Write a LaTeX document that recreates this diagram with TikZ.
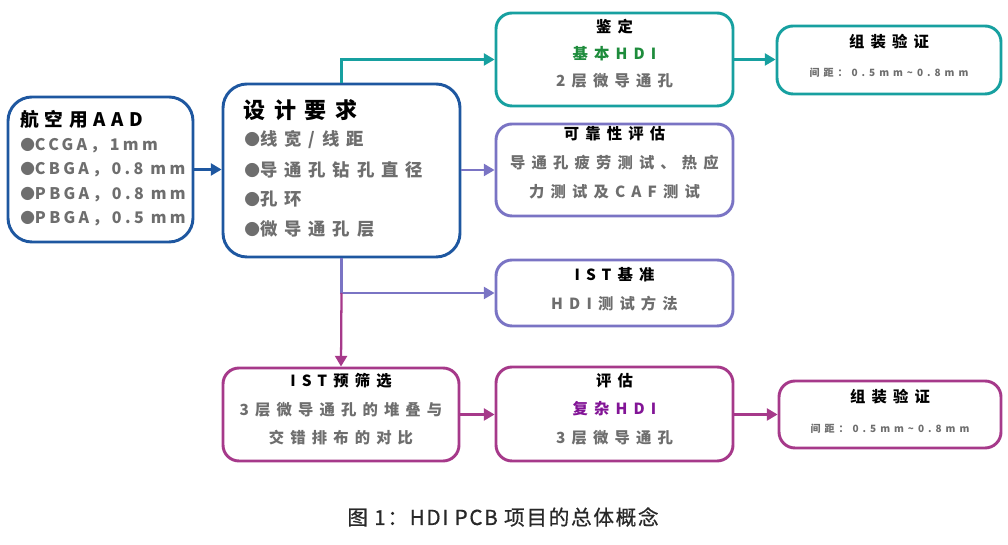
\documentclass[tikz,border=0pt]{standalone}
\usepackage{fontspec}
\setmainfont{Noto Sans CJK SC}
\newfontfamily\lsfont[LetterSpace=40]{Noto Sans CJK SC}
\newfontfamily\lsAfont[LetterSpace=21]{Noto Sans CJK SC}
\newfontfamily\lsTfont[LetterSpace=31]{Noto Sans CJK SC}
\newfontfamily\capfont[LetterSpace=8,FakeBold=0.6]{Noto Sans CJK SC}
\newcommand{\bltA}{{\normalfont\bfseries\fontsize{11}{11}\selectfont●}}
\newcommand{\bltB}{{\normalfont\bfseries\fontsize{11.8}{11.8}\selectfont●}}
\usetikzlibrary{arrows.meta,fit}
\definecolor{cblue}{RGB}{30,87,160}
\definecolor{cteal}{RGB}{23,160,160}
\definecolor{cpurple}{RGB}{122,116,196}
\definecolor{cmag}{RGB}{166,57,138}
\definecolor{cgray}{RGB}{110,110,110}
\definecolor{cgreen}{RGB}{30,140,60}
\definecolor{cviolet}{RGB}{130,20,150}
\definecolor{ccap}{RGB}{40,40,40}
\begin{document}
\begin{tikzpicture}[x=0.75pt,y=-0.75pt,
  box/.style={draw, line width=2.2pt, rounded corners=12pt, fill=white, inner sep=0pt},
  bigbox/.style={box, rounded corners=18pt},
  arr/.style={line width=1.7pt, -{Triangle[length=8pt,width=9pt]}},
  ttlA/.style={font=\lsTfont\bfseries\fontsize{14}{16}\selectfont, text=black, anchor=west, inner sep=0pt},
  bodyA/.style={font=\lsAfont\bfseries\fontsize{12}{14}\selectfont, text=cgray, anchor=west, inner sep=0pt},
  ttlB/.style={font=\lsfont\bfseries\fontsize{16.5}{18}\selectfont, text=black, anchor=west, inner sep=0pt},
  bodyB/.style={font=\lsfont\bfseries\fontsize{13}{15}\selectfont, text=cgray, anchor=west, inner sep=0pt},
  ttl/.style={font=\lsfont\bfseries\fontsize{11.5}{13}\selectfont, text=black, inner sep=0pt},
  body/.style={font=\lsfont\bfseries\fontsize{11.5}{13}\selectfont, text=cgray, inner sep=0pt},
  smalltxt/.style={font=\lsfont\bfseries\fontsize{7.5}{9}\selectfont, text=cgray, inner sep=0pt},
  captxt/.style={font=\capfont\fontsize{15.5}{17}\selectfont, text=ccap, inner sep=0pt}]
\useasboundingbox (0,0) rectangle (1008,545);

% boxes
\node[bigbox, draw=cblue, fit={(8,97) (193,242)}] (aad) {};
\node[bigbox, draw=cblue, fit={(223,84) (460,257)}] (design) {};
\node[box, draw=cteal, fit={(496,13) (733,106)}] (jd) {};
\node[box, draw=cteal, fit={(777,26) (1001,94)}] (zz1) {};
\node[box, draw=cpurple, fit={(496,124) (733,216)}] (kk) {};
\node[box, draw=cpurple, fit={(496,260) (733,326)}] (istb) {};
\node[box, draw=cmag, fit={(223,368) (459,461)}] (ys) {};
\node[box, draw=cmag, fit={(496,367) (733,461)}] (pg) {};
\node[box, draw=cmag, fit={(779,381) (1001,448)}] (zz2) {};

% texts AAD
\node[ttlA] (aad0) at (20,119) {航空用AAD};
\node[bodyA] (aad1) at (20,146) {\bltA CCGA，1mm};
\node[bodyA] (aad2) at (20,170) {\bltA CBGA，0.8 mm};
\node[bodyA] (aad3) at (20,195) {\bltA PBGA，0.8 mm};
\node[bodyA] (aad4) at (20,219) {\bltA PBGA，0.5 mm};

% design
\node[ttlB] (d0) at (243,110) {设计要求};
\node[bodyB] (d1) at (244,140) {\bltB 线宽/线距};
\node[bodyB] (d2) at (244,170) {\bltB 导通孔钻孔直径};
\node[bodyB] (d3) at (244,199) {\bltB 孔环};
\node[bodyB] (d4) at (244,229) {\bltB 微导通孔层};

% jianding
\node[ttl] (jd0) at (614.5,27) {鉴定};
\node[body, text=cgreen] (jd1) at (614.5,54) {基本HDI};
\node[body] (jd2) at (614.5,81) {2层微导通孔};

% zuzhuang 1
\node[ttl] (zz1a) at (889,42) {组装验证};
\node[smalltxt] (zz1b) at (889,73) {间距：0.5mm\textasciitilde0.8mm};

% kekao
\node[ttl] (kk0) at (614.5,134) {可靠性评估};
\node[body] (kk1) at (614.5,163) {导通孔疲劳测试、热应};
\node[body] (kk2) at (614.5,192) {力测试及CAF测试};

% IST benchmark
\node[ttl] (ib0) at (614.5,275) {IST基准};
\node[body] (ib1) at (614.5,304) {HDI测试方法};

% IST prescreen
\node[ttl] (ys0) at (341,381) {IST预筛选};
\node[body] (ys1) at (341,410) {3层微导通孔的堆叠与};
\node[body] (ys2) at (341,438) {交错排布的对比};

% pinggu
\node[ttl] (pg0) at (614.5,381) {评估};
\node[body, text=cviolet] (pg1) at (614.5,409) {复杂HDI};
\node[body] (pg2) at (614.5,438) {3层微导通孔};

% zuzhuang 2
\node[ttl] (zz2a) at (890,397) {组装验证};
\node[smalltxt] (zz2b) at (890,429) {间距：0.5mm\textasciitilde0.8mm};

% caption
\node[captxt] (caption) at (503,517) {图 1：HDI PCB 项目的总体概念};

% connectors
\coordinate (j) at (design.south |- istb.west);
\draw[arr, draw=cblue] (aad.east) -- (aad.east -| design.west);
\draw[arr, draw=cteal] (design.north) |- (jd.west);
\draw[arr, draw=cteal] (jd.east) -- (jd.east -| zz1.west);
\draw[arr, draw=cpurple] (design.east |- kk.west) -- (kk.west);
\draw[arr, draw=cpurple] (design.south) -- (j) -- (istb.west);
\draw[arr, draw=cmag] (j) -- (ys.north);
\draw[arr, draw=cmag] (ys.east) -- (ys.east -| pg.west);
\draw[arr, draw=cmag] (pg.east |- zz2.west) -- (zz2.west);
\end{tikzpicture}
\end{document}
